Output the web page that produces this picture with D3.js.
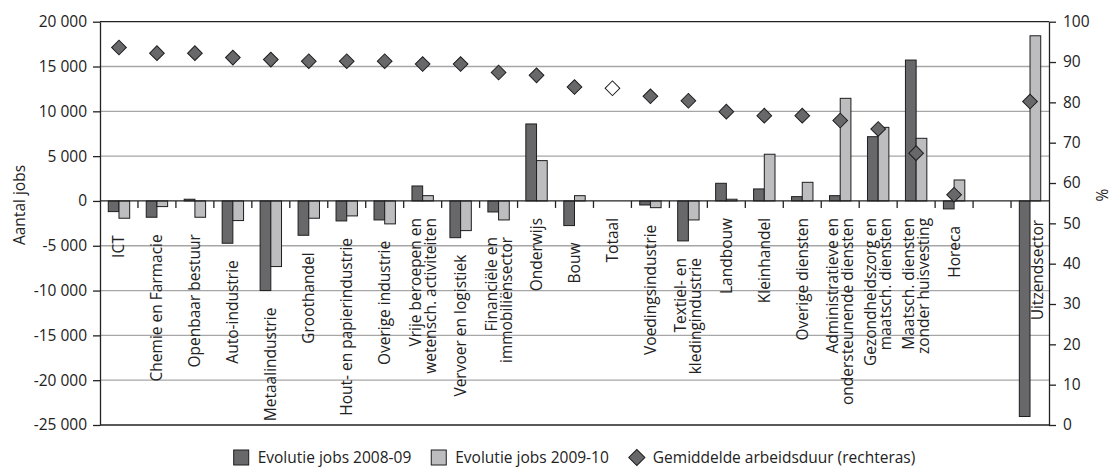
<!DOCTYPE html>
<html>
<head>
<meta charset="utf-8">
<script src="https://cdn.jsdelivr.net/npm/d3@7"></script>
<style>
  body { margin: 0; background: #fff; }
  svg { display: block; font-family: "Open Sans", sans-serif; }
</style>
</head>
<body>
<svg id="chart" width="1115" height="468"></svg>
<script>
// categories, multi-line labels split on \n
let categories = [
  "ICT", "Chemie en Farmacie", "Openbaar bestuur", "Auto-industrie", "Metaalindustrie",
  "Groothandel", "Hout- en papierindustrie", "Overige industrie",
  "Vrije beroepen en\nwetensch. activiteiten", "Vervoer en logistiek",
  "Financiële en\nimmobiliënsector", "Onderwijs", "Bouw", "Totaal", "Voedingsindustrie",
  "Textiel- en\nkledingindustrie", "Landbouw", "Kleinhandel", "Overige diensten",
  "Administratieve en\nondersteunende diensten", "Gezondheidszorg en\nmaatsch. diensten",
  "Maatsch. diensten\nzonder huisvesting", "Horeca", "", "Uitzendsector"
]
// evolutie jobs (left axis)
let jobs0809 = [-1190, -1820, 190, -4720, -10000, -3830, -2230, -2120, 1670, -4100,
  -1230, 8590, -2750, null, -450, -4460, 1970, 1340, 480, 590, 7170, 15720, -890, null, -24050]
let jobs0910 = [-1930, -630, -1820, -2190, -7320, -1930, -1670, -2560, 590, -3310,
  -2120, 4500, 590, null, -750, -2120, 190, 5210, 2080, 11450, 8210, 6990, 2340, null, 18430]
// gemiddelde arbeidsduur in % (right axis)
let arbeidsduur = [93.6, 92.2, 92.2, 91.1, 90.6, 90.2, 90.2, 90.2, 89.5, 89.5,
  87.4, 86.7, 83.8, 83.5, 81.5, 80.4, 77.7, 76.7, 76.7, 75.5, 73.4, 67.4, 57.1, null, 80.2]
let leftTicks = [20000, 15000, 10000, 5000, 0, -5000, -10000, -15000, -20000, -25000]
let rightTicks = [100, 90, 80, 70, 60, 50, 40, 30, 20, 10, 0]
let legendLabels = ["Evolutie jobs 2008-09", "Evolutie jobs 2009-10", "Gemiddelde arbeidsduur (rechteras)"]

let darkFill = "#68686b", lightFill = "#bdbdc0", edge = "#1e1e1e", gridCol = "#a6a6a6"
let fs = 15.5

let svg = d3.select("#chart")
let pLeft = 100, pRight = 1049, pTop = 21.7, pBottom = 425

let idx = categories.map((d, i) => i)
let x = d3.scaleBand().domain(idx).range([pLeft, pRight]).padding(0)
let x1 = d3.scaleBand().domain(["a", "b"]).range([0, x.bandwidth()]).paddingInner(0).paddingOuter(0.774)
let yL = d3.scaleLinear().domain([-25000, 20000]).range([pBottom, pTop])
let yR = d3.scaleLinear().domain([0, 100]).range([pBottom, pTop])

let loc = d3.formatLocale({ decimal: ",", thousands: " ", grouping: [3], currency: ["", ""], minus: "-" })
let fmt = loc.format(",d")

// gridlines
svg.append("g").selectAll("line").data(leftTicks.filter(t => t != 0 && t != 20000 && t != -25000))
  .enter().append("line")
  .attr("x1", pLeft).attr("x2", pRight)
  .attr("y1", d => yL(d)).attr("y2", d => yL(d))
  .attr("stroke", gridCol).attr("stroke-width", 1.3)

// bars
let barData = []
idx.forEach(i => {
  if (jobs0809[i] != null) barData.push({ i: i, s: "a", v: jobs0809[i] })
  if (jobs0910[i] != null) barData.push({ i: i, s: "b", v: jobs0910[i] })
})
svg.append("g").selectAll("rect").data(barData).enter().append("rect")
  .attr("x", d => x(d.i) + x1(d.s))
  .attr("width", x1.bandwidth())
  .attr("y", d => yL(Math.max(0, d.v)))
  .attr("height", d => Math.abs(yL(d.v) - yL(0)))
  .attr("fill", d => d.s == "a" ? darkFill : lightFill)
  .attr("stroke", edge).attr("stroke-width", 1)

// frame lines and zero line
let frame = svg.append("g").attr("stroke", "#222").attr("stroke-width", 1.3)
frame.append("line").attr("x1", pLeft).attr("x2", pRight).attr("y1", pTop).attr("y2", pTop)
frame.append("line").attr("x1", pLeft).attr("x2", pRight).attr("y1", pBottom).attr("y2", pBottom)
frame.append("line").attr("x1", pLeft).attr("x2", pRight).attr("y1", yL(0)).attr("y2", yL(0))
// category ticks along the zero line
frame.selectAll(".ctick").data(idx.slice(1)).enter().append("line")
  .attr("x1", d => x(d)).attr("x2", d => x(d))
  .attr("y1", yL(0)).attr("y2", yL(0) + 7)

// left axis
let axL = svg.append("g").attr("transform", `translate(${pLeft},0)`)
  .call(d3.axisLeft(yL).tickValues(leftTicks).tickFormat(fmt).tickSize(7).tickSizeOuter(0).tickPadding(6))
axL.selectAll("text").attr("font-size", fs).attr("fill", "#222").attr("font-family", "Open Sans")
axL.selectAll("line, path").attr("stroke", "#222").attr("stroke-width", 1.3)

// right axis
let axR = svg.append("g").attr("transform", `translate(${pRight},0)`)
  .call(d3.axisRight(yR).tickValues(rightTicks).tickSize(7).tickSizeOuter(0).tickPadding(7))
axR.selectAll("text").attr("font-size", fs).attr("fill", "#222").attr("font-family", "Open Sans")
axR.selectAll("line, path").attr("stroke", "#222").attr("stroke-width", 1.3)

// axis titles
svg.append("text").attr("transform", "translate(19,205) rotate(-90)")
  .attr("text-anchor", "middle").attr("dominant-baseline", "central")
  .attr("font-size", fs).attr("fill", "#222").text("Aantal jobs")
svg.append("text").attr("transform", "translate(1102,195) rotate(-90)")
  .attr("text-anchor", "middle").attr("dominant-baseline", "central")
  .attr("font-size", fs).attr("fill", "#222").text("%")

// category labels, placed below the lowest bar
let lineH = 15
let labels = svg.append("g").attr("font-size", fs).attr("fill", "#222")
idx.forEach(i => {
  if (!categories[i]) return
  let lines = categories[i].split("\n")
  let low = Math.min(0, jobs0809[i] || 0, jobs0910[i] || 0)
  let cx = x(i) + x.bandwidth() / 2
  let ty = yL(low) + 17
  let t = labels.append("text").attr("text-anchor", "end")
  lines.forEach((ln, k) => {
    t.append("tspan").attr("x", 0).attr("y", (k - (lines.length - 1) / 2) * lineH).attr("dy", "0.35em").text(ln)
  })
  let len = d3.max(t.selectAll("tspan").nodes(), n => n.getComputedTextLength())
  if (ty + len > pBottom) {
    // no room under the bar: put it under the zero line, beside the bar
    ty = yL(0) + 19
    cx = x(i) + x1("b") + x1.bandwidth() / 2 + 2
  }
  t.attr("transform", `translate(${cx},${ty}) rotate(-90)`)
})

// arbeidsduur diamonds
let diamond = d3.symbol().type(d3.symbolSquare).size(108)
svg.append("g").selectAll("path").data(idx.filter(i => arbeidsduur[i] != null)).enter().append("path")
  .attr("d", diamond)
  .attr("transform", i => `translate(${x(i) + x.bandwidth() / 2},${yR(arbeidsduur[i])}) rotate(45)`)
  .attr("fill", i => categories[i] == "Totaal" ? "#fff" : darkFill)
  .attr("stroke", edge).attr("stroke-width", 1)

// legend
let lg = svg.append("g").attr("font-size", fs).attr("fill", "#222")
let lx = 0, gap = 20
legendLabels.forEach((lab, k) => {
  let item = lg.append("g").attr("transform", `translate(${lx},0)`)
  if (k < 2) {
    item.append("rect").attr("x", 0).attr("y", -7.5).attr("width", 15).attr("height", 15)
      .attr("fill", k == 0 ? darkFill : lightFill).attr("stroke", edge)
  } else {
    item.append("path").attr("d", d3.symbol().type(d3.symbolSquare).size(130))
      .attr("transform", "translate(8,0) rotate(45)").attr("fill", darkFill).attr("stroke", edge)
  }
  let t = item.append("text").attr("x", 24).attr("dy", "0.35em").text(lab)
  lx += 24 + t.node().getComputedTextLength() + gap
})
lx -= gap
lg.attr("transform", `translate(${(pLeft + pRight) / 2 - lx / 2},457.5)`)
</script>
</body>
</html>
